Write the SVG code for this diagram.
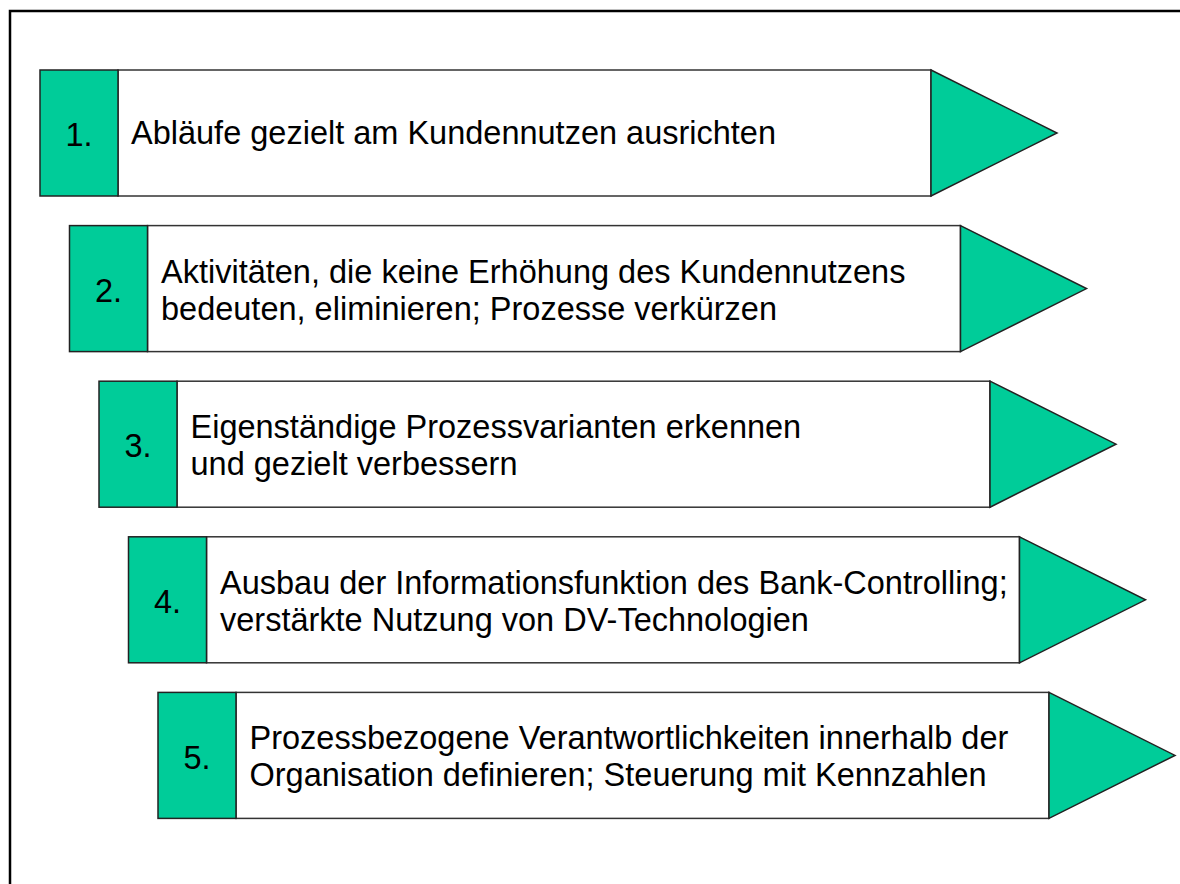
<svg xmlns="http://www.w3.org/2000/svg" width="1180" height="884" viewBox="0 0 1180 884">
<style>
.num{fill:#00CC99;stroke:#222;stroke-width:1.5}
.body{fill:#fff;stroke:#333;stroke-width:1.5}
.tri{fill:#00CC99;stroke:#222;stroke-width:1.5;stroke-linejoin:miter}
text{font-family:"Liberation Sans",Arial,sans-serif;font-size:32.5px;fill:#000}
.n{text-anchor:middle}
</style>
<rect x="0" y="0" width="1180" height="884" fill="#fff"/>
<rect x="10" y="11" width="1200" height="900" fill="none" stroke="#000" stroke-width="2.5"/>
<g id="connectors"></g>
<g id="step1">
<rect class="body" x="118" y="70" width="813" height="126"/>
<rect class="num" x="40" y="70" width="78" height="126"/>
<polygon class="tri" points="931,70 1057,133 931,196"/>
<text class="n" x="79" y="146">1.</text>
<text x="131" y="144">Abläufe gezielt am Kundennutzen ausrichten</text>
</g>
<g id="step2">
<rect class="body" x="147.5" y="225.6" width="813" height="126"/>
<rect class="num" x="69.5" y="225.6" width="78" height="126"/>
<polygon class="tri" points="960.5,225.6 1086.5,288.6 960.5,351.6"/>
<text class="n" x="108.5" y="302">2.</text>
<text x="161" y="283">Aktivitäten, die keine Erhöhung des Kundennutzens</text>
<text x="161" y="320">bedeuten, eliminieren; Prozesse verkürzen</text>
</g>
<g id="step3">
<rect class="body" x="177" y="381.2" width="813" height="126"/>
<rect class="num" x="99" y="381.2" width="78" height="126"/>
<polygon class="tri" points="990,381.2 1116,444.2 990,507.2"/>
<text class="n" x="138" y="457">3.</text>
<text x="190.5" y="438">Eigenständige Prozessvarianten erkennen</text>
<text x="190.5" y="475">und gezielt verbessern</text>
</g>
<g id="step4">
<rect class="body" x="206.5" y="536.8" width="813" height="126"/>
<rect class="num" x="128.5" y="536.8" width="78" height="126"/>
<polygon class="tri" points="1019.5,536.8 1145.5,599.8 1019.5,662.8"/>
<text class="n" x="167.5" y="613">4.</text>
<text x="220" y="594">Ausbau der Informationsfunktion des Bank-Controlling;</text>
<text x="220" y="631">verstärkte Nutzung von DV-Technologien</text>
</g>
<g id="step5">
<rect class="body" x="236" y="692.4" width="813" height="126"/>
<rect class="num" x="158" y="692.4" width="78" height="126"/>
<polygon class="tri" points="1049,692.4 1175,755.4 1049,818.4"/>
<text class="n" x="197" y="769">5.</text>
<text x="249.5" y="749">Prozessbezogene Verantwortlichkeiten innerhalb der</text>
<text x="249.5" y="786">Organisation definieren; Steuerung mit Kennzahlen</text>
</g>
</svg>
